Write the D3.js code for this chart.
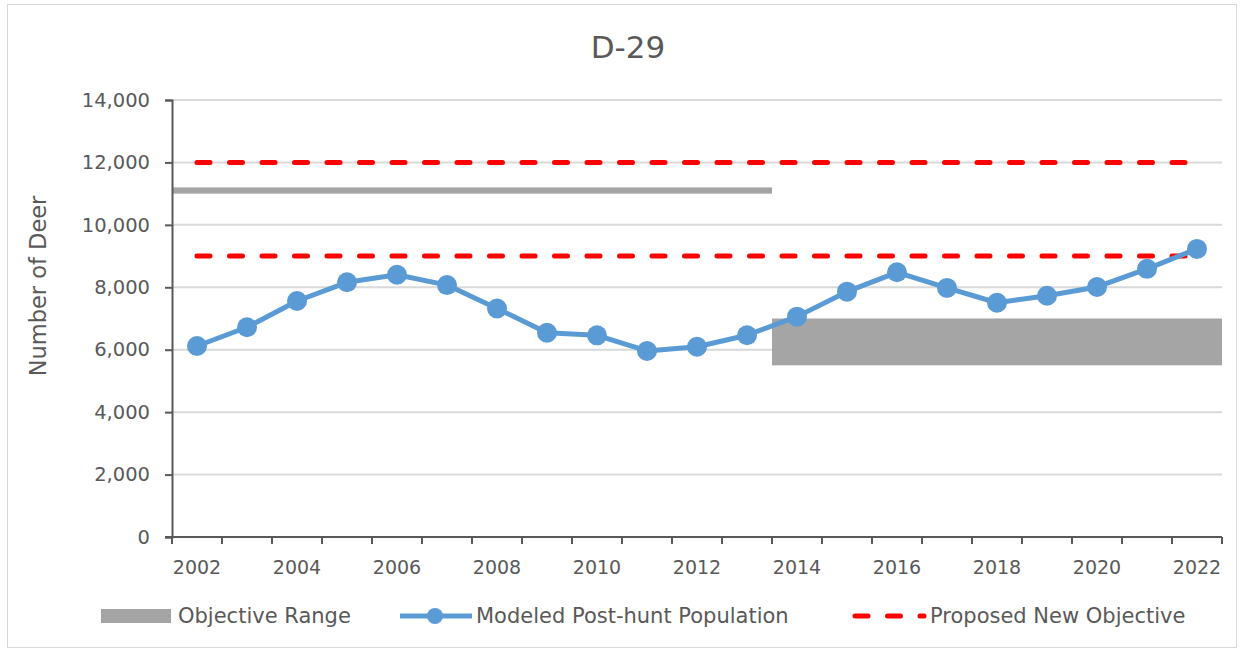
<!DOCTYPE html>
<html>
<head>
<meta charset="utf-8">
<script src="https://cdn.jsdelivr.net/npm/d3@7"></script>
<style>
  html, body { margin: 0; padding: 0; background: #fff; }
  svg text { font-family: "DejaVu Sans", "Verdana", sans-serif; fill: #595959; }
</style>
</head>
<body>
<svg id="chart" width="1244" height="653"></svg>
<script>
// Deer unit D-29: modeled post-hunt population vs. objective ranges
const years = d3.range(2002, 2023);
const population = [6120, 6720, 7560, 8160, 8400, 8070, 7320, 6545, 6460, 5960, 6095, 6465,
                    7060, 7860, 8480, 7980, 7505, 7730, 8010, 8590, 9230];
const objectiveLow  = [11000, 11000, 11000, 11000, 11000, 11000, 11000, 11000, 11000, 11000, 11000, 11000,
                       5500, 5500, 5500, 5500, 5500, 5500, 5500, 5500, 5500];
const objectiveHigh = [11200, 11200, 11200, 11200, 11200, 11200, 11200, 11200, 11200, 11200, 11200, 11200,
                       7000, 7000, 7000, 7000, 7000, 7000, 7000, 7000, 7000];
const proposedObjective = [9000, 12000];
const yTicks = [0, 2000, 4000, 6000, 8000, 10000, 12000, 14000];
const xTickLabels = years.filter(y => y % 2 === 0);

const svg = d3.select("#chart");
const W = 1244, H = 653;
const margin = { left: 172, right: 22, top: 100, bottom: 116 };

// outer frame
svg.append("rect")
  .attr("x", 7.5).attr("y", 4.5).attr("width", 1229).attr("height", 643)
  .attr("fill", "none").attr("stroke", "#d9d9d9").attr("stroke-width", 1);

const x = d3.scaleBand().domain(years).range([margin.left, W - margin.right]).padding(0);
const y = d3.scaleLinear().domain([0, 14000]).range([H - margin.bottom, margin.top]);

// title
svg.append("text")
  .attr("x", 628).attr("y", 58)
  .attr("text-anchor", "middle")
  .style("font-size", "31px")
  .text("D-29");

// gridlines
svg.append("g")
  .selectAll("line")
  .data(yTicks.filter(d => d > 0))
  .join("line")
  .attr("x1", x.range()[0]).attr("x2", x.range()[1])
  .attr("y1", d => y(d)).attr("y2", d => y(d))
  .attr("stroke", "#d9d9d9").attr("stroke-width", 2);

// objective range bands, merged into runs of equal bounds
const runs = [];
years.forEach((yr, i) => {
  const last = runs[runs.length - 1];
  if (last && last.low === objectiveLow[i] && last.high === objectiveHigh[i]) {
    last.end = yr;
  } else {
    runs.push({ start: yr, end: yr, low: objectiveLow[i], high: objectiveHigh[i] });
  }
});
svg.append("g")
  .selectAll("rect")
  .data(runs)
  .join("rect")
  .attr("x", d => x(d.start))
  .attr("width", d => x(d.end) + x.bandwidth() - x(d.start))
  .attr("y", d => y(d.high))
  .attr("height", d => y(d.low) - y(d.high))
  .attr("fill", "#a5a5a5");

// proposed new objective lines
svg.append("g")
  .selectAll("line")
  .data(proposedObjective)
  .join("line")
  .attr("x1", x(years[0]) + x.bandwidth() / 2)
  .attr("x2", x(years[years.length - 1]) + x.bandwidth() / 2)
  .attr("y1", d => y(d)).attr("y2", d => y(d))
  .attr("stroke", "#ff0000").attr("stroke-width", 5)
  .attr("stroke-linecap", "round")
  .attr("stroke-dasharray", "13,19.5");

// axes
const yAxis = d3.axisLeft(y).tickValues(yTicks).tickFormat(d3.format(",")).tickSizeOuter(0).tickSize(7).tickPadding(15);
const gy = svg.append("g").attr("transform", `translate(${margin.left},0)`).call(yAxis);
gy.select(".domain").attr("stroke", "#595959").attr("stroke-width", 2);
gy.selectAll(".tick line").attr("stroke", "#595959").attr("stroke-width", 2);
gy.selectAll(".tick text").style("font-size", "19.5px").attr("fill", "#595959")
  .style("font-family", "'DejaVu Sans', Verdana, sans-serif");

const gx = svg.append("g").attr("transform", `translate(0,${y(0)})`);
gx.append("line")
  .attr("x1", x.range()[0] - 7).attr("x2", x.range()[1])
  .attr("y1", 0).attr("y2", 0)
  .attr("stroke", "#595959").attr("stroke-width", 2);
gx.selectAll("line.tk")
  .data(years.concat([null]))
  .join("line").attr("class", "tk")
  .attr("x1", (d, i) => x.range()[0] + i * x.bandwidth())
  .attr("x2", (d, i) => x.range()[0] + i * x.bandwidth())
  .attr("y1", 0).attr("y2", 7)
  .attr("stroke", "#595959").attr("stroke-width", 2);
gx.selectAll("text")
  .data(xTickLabels)
  .join("text")
  .attr("x", d => x(d) + x.bandwidth() / 2)
  .attr("y", 37)
  .attr("text-anchor", "middle")
  .style("font-size", "19px")
  .text(d => d);

// y axis title
svg.append("text")
  .attr("transform", "translate(46,286) rotate(-90)")
  .attr("text-anchor", "middle")
  .style("font-size", "22.5px")
  .text("Number of Deer");

// population line and markers
const line = d3.line()
  .x((d, i) => x(years[i]) + x.bandwidth() / 2)
  .y(d => y(d));
svg.append("path")
  .datum(population)
  .attr("d", line)
  .attr("fill", "none")
  .attr("stroke", "#5b9bd5").attr("stroke-width", 5)
  .attr("stroke-linejoin", "round");
svg.append("g")
  .selectAll("circle")
  .data(population)
  .join("circle")
  .attr("cx", (d, i) => x(years[i]) + x.bandwidth() / 2)
  .attr("cy", d => y(d))
  .attr("r", 10)
  .attr("fill", "#5b9bd5");

// legend
const ly = 616;
const legend = svg.append("g");
legend.append("rect").attr("x", 101).attr("y", ly - 7).attr("width", 70).attr("height", 14).attr("fill", "#a5a5a5");
legend.append("text").attr("x", 178).attr("y", ly + 7).style("font-size", "21px").text("Objective Range");

legend.append("line").attr("x1", 400).attr("x2", 472).attr("y1", ly).attr("y2", ly)
  .attr("stroke", "#5b9bd5").attr("stroke-width", 5);
legend.append("circle").attr("cx", 435).attr("cy", ly).attr("r", 8).attr("fill", "#5b9bd5");
legend.append("text").attr("x", 476).attr("y", ly + 7).style("font-size", "21px").text("Modeled Post-hunt Population");

legend.append("line").attr("x1", 855).attr("x2", 924).attr("y1", ly).attr("y2", ly)
  .attr("stroke", "#ff0000").attr("stroke-width", 5)
  .attr("stroke-linecap", "round").attr("stroke-dasharray", "13,19.5");
legend.append("text").attr("x", 930).attr("y", ly + 7).style("font-size", "21px").text("Proposed New Objective");
</script>
</body>
</html>
